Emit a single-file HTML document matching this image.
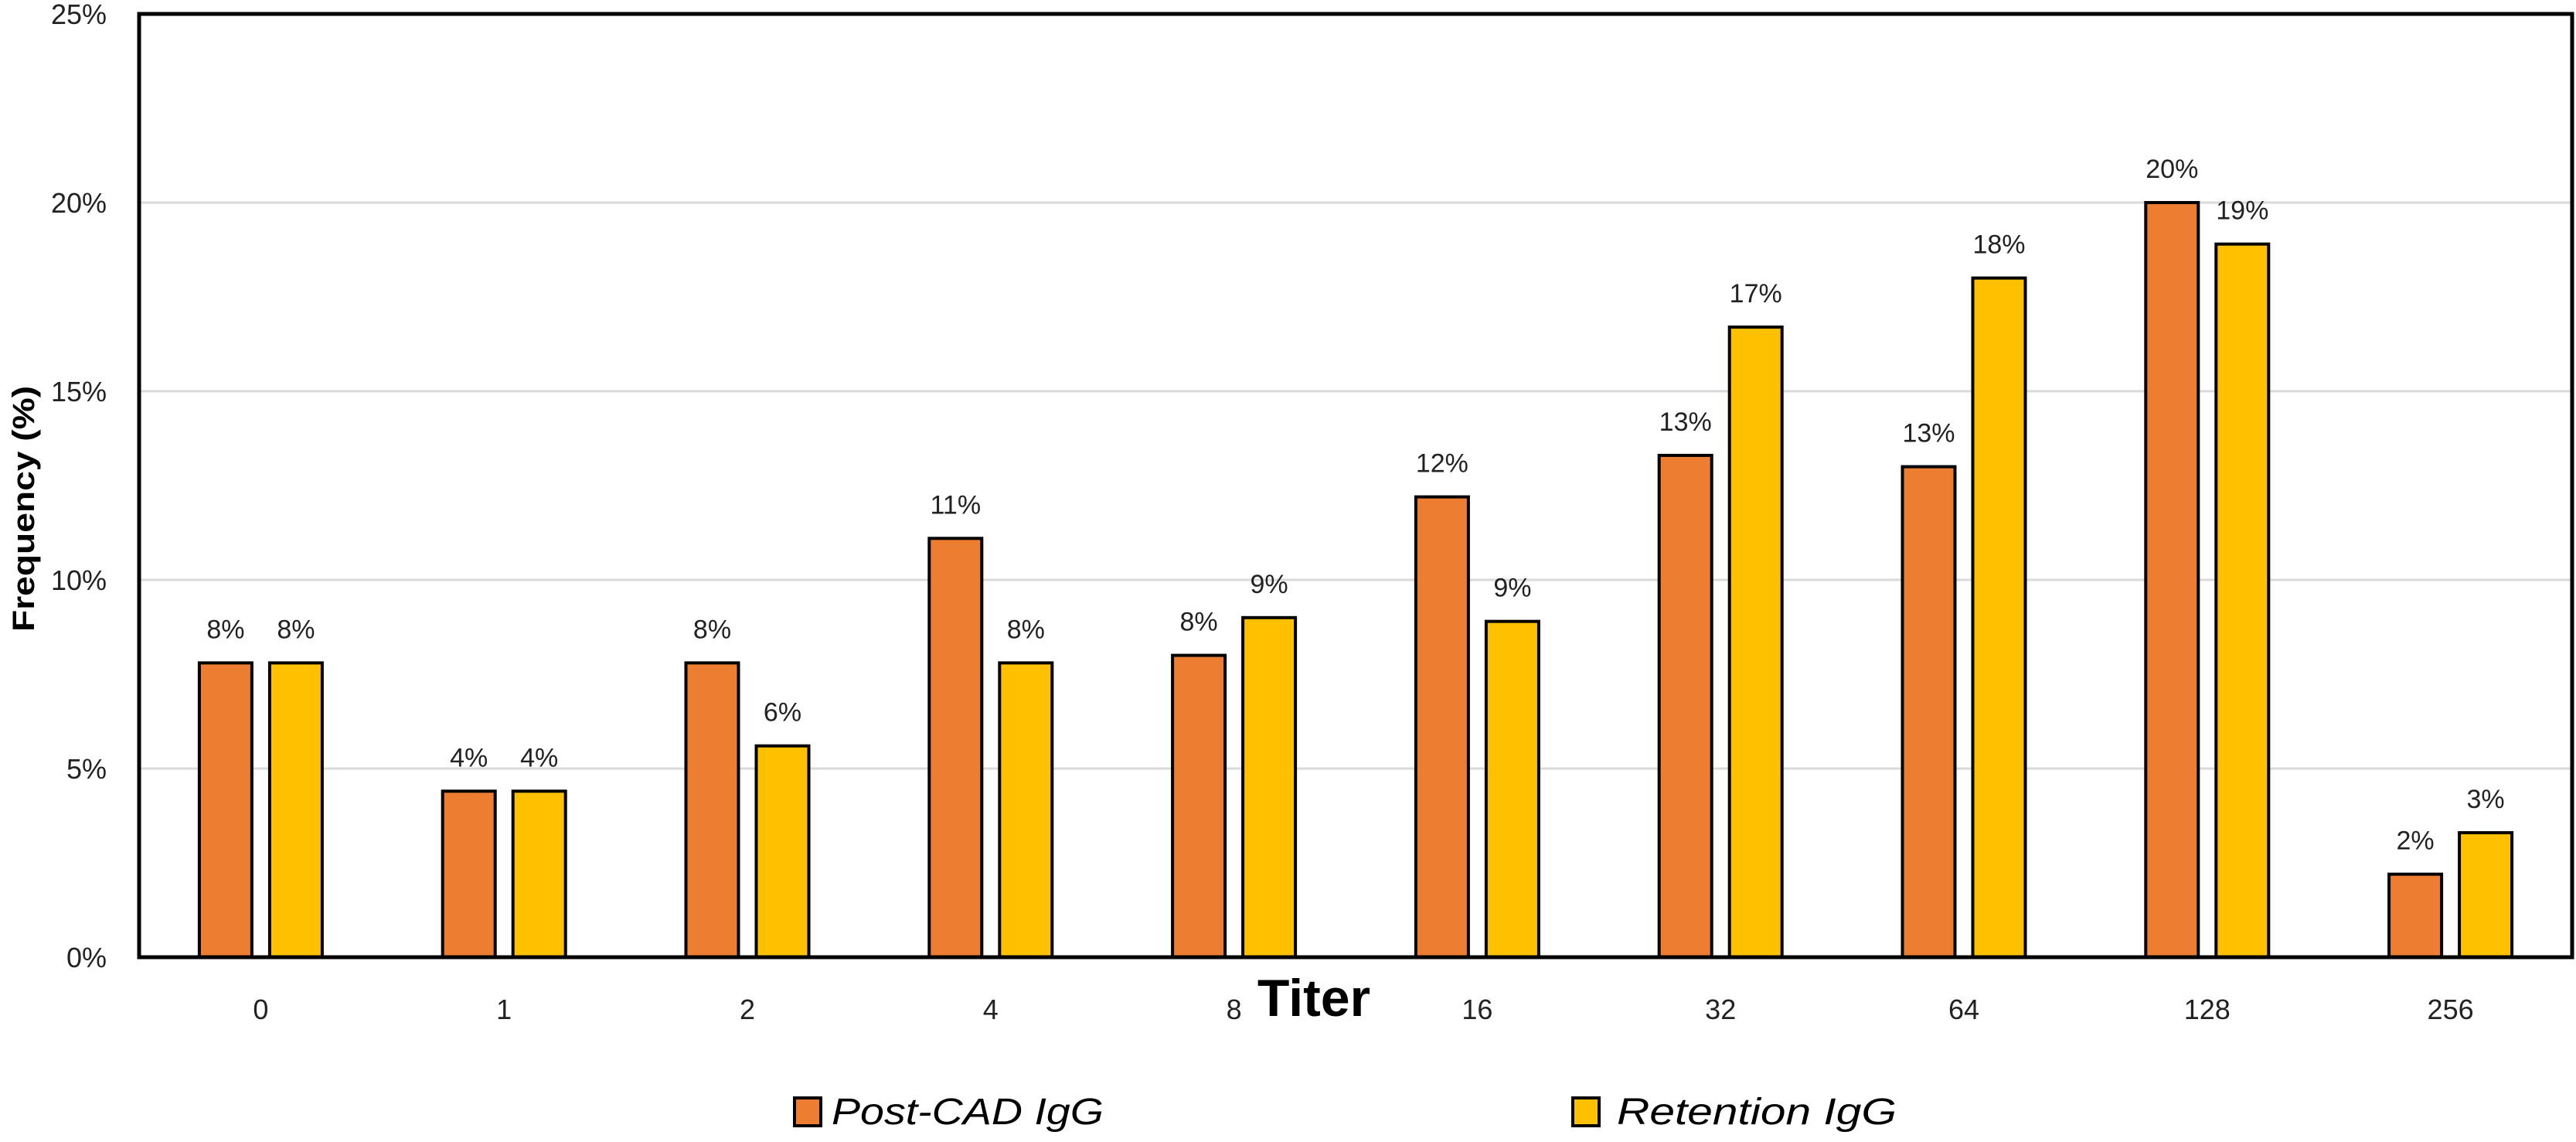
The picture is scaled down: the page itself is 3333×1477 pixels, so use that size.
<!DOCTYPE html>
<html><head><meta charset="utf-8"><style>html,body{margin:0;padding:0;background:#fff}svg{display:block}</style></head>
<body>
<svg id="chart" width="3333" height="1477" viewBox="0 0 3333 1477" xmlns="http://www.w3.org/2000/svg" font-family="'Liberation Sans', sans-serif">
<g id="grid"></g>
<g id="bars"></g>
<g id="vlabels"></g>
<rect x="180" y="18" width="3148" height="1220" fill="none" stroke="#000" stroke-width="5"/>
<g id="yticks"></g>
<g id="xticks"></g>
<text x="1700" y="1314" font-size="68" font-weight="bold" text-anchor="middle" fill="#000">Titer</text>
<text transform="translate(44,658) rotate(-90)" font-size="40" font-weight="bold" text-anchor="middle" fill="#000" textLength="318" lengthAdjust="spacingAndGlyphs">Frequency (%)</text>
<g>
<g>
<rect x="1028" y="1420" width="34" height="36" fill="#ED7D31" stroke="#000" stroke-width="4"/>
<text x="1076" y="1454" font-size="48" font-style="italic" fill="#000" textLength="352" lengthAdjust="spacingAndGlyphs">Post-CAD IgG</text>
</g>
<g>
<rect x="2035" y="1420" width="34" height="36" fill="#FFC000" stroke="#000" stroke-width="4"/>
<text x="2092" y="1454" font-size="48" font-style="italic" fill="#000" textLength="362" lengthAdjust="spacingAndGlyphs">Retention IgG</text>
</g>
</g>
</svg>
<script>
const categories = ["0","1","2","4","8","16","32","64","128","256"];
const postCAD = [7.8, 4.4, 7.8, 11.1, 8.0, 12.2, 13.3, 13.0, 20.0, 2.2];
const retention = [7.8, 4.4, 5.6, 7.8, 9.0, 8.9, 16.7, 18.0, 18.9, 3.3];
const postLabels = ["8%","4%","8%","11%","8%","12%","13%","13%","20%","2%"];
const retLabels = ["8%","4%","6%","8%","9%","9%","17%","18%","19%","3%"];
const yTicks = [0, 5, 10, 15, 20, 25];
const yTickLabels = ["0%","5%","10%","15%","20%","25%"];

const NS = "http://www.w3.org/2000/svg";
const L = 180, R = 3328, T = 18, B = 1238, YMAX = 25;
const y = v => B - (v / YMAX) * (B - T);
const band = (R - L) / categories.length;
const xc = i => L + band * (i + 0.5);
const BW = 72, GAP = 19;

function mk(tag, attrs, parent) {
  const e = document.createElementNS(NS, tag);
  for (const k in attrs) e.setAttribute(k, attrs[k]);
  parent.appendChild(e);
  return e;
}
const grid = document.getElementById('grid');
const bars = document.getElementById('bars');
const vl = document.getElementById('vlabels');
const yt = document.getElementById('yticks');
const xt = document.getElementById('xticks');

yTicks.forEach((v, i) => {
  if (v > 0 && v < YMAX) {
    const g = mk('line', {x1: L, x2: R, y1: y(v), y2: y(v), stroke: '#d9d9d9', 'stroke-width': 3}, grid);
    
    
  }
  const t = mk('text', {x: 138, y: y(v) + 13, 'font-size': 36, 'text-anchor': 'end', fill: '#222'}, yt);
  t.textContent = yTickLabels[i];
  
  
});

categories.forEach((c, i) => {
  const cx = xc(i);
  const series = [[postCAD, postLabels, '#ED7D31', cx - GAP / 2 - BW, 'post-cad'], [retention, retLabels, '#FFC000', cx + GAP / 2, 'retention']];
  series.forEach(([vals, labs, col, x0, nm]) => {
    const top = y(vals[i]);
    const r = mk('rect', {x: x0 + 2, y: top, width: BW - 4, height: B - top, fill: col, stroke: '#000', 'stroke-width': 4}, bars);
    
    
    const t = mk('text', {x: x0 + BW / 2, y: top - 32, 'font-size': 34, 'text-anchor': 'middle', fill: '#222'}, vl);
    t.textContent = labs[i];
    
    
  });
  const t = mk('text', {x: cx, y: 1318, 'font-size': 36, 'text-anchor': 'middle', fill: '#222'}, xt);
  t.textContent = c;
  
  
});
</script>
</body></html>
